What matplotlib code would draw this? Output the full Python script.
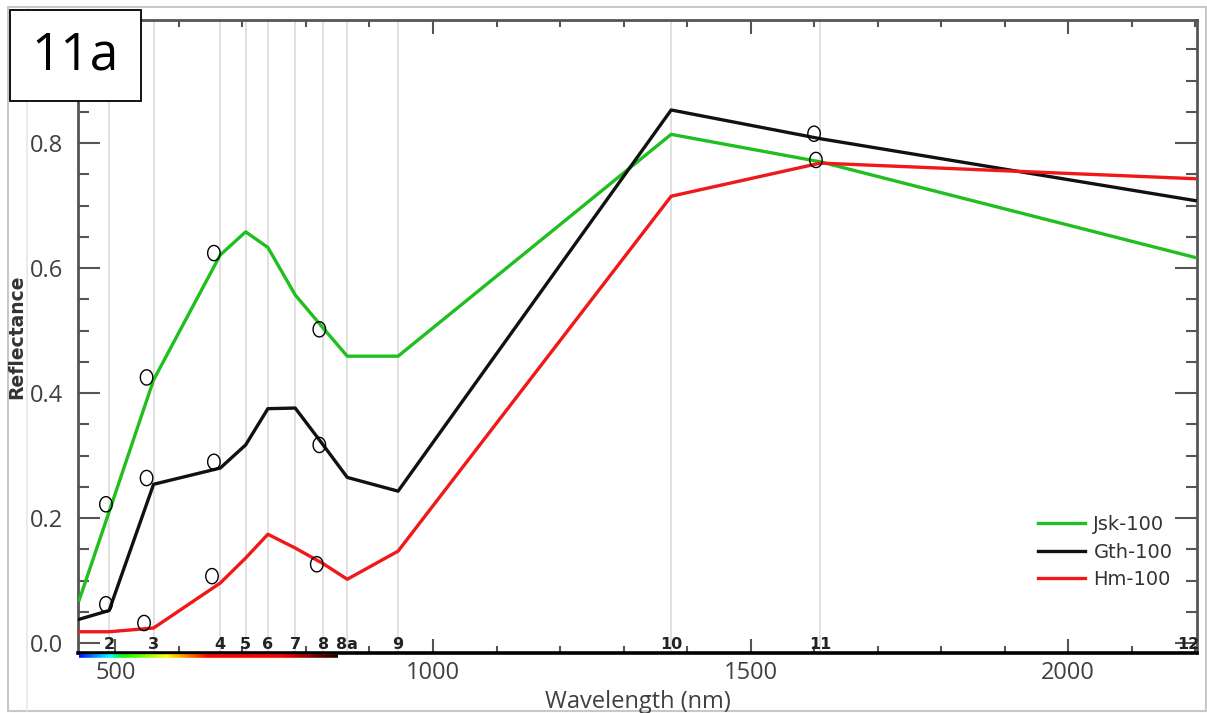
import numpy as np
import matplotlib
matplotlib.use("Agg")
import matplotlib.pyplot as plt
from matplotlib.ticker import MultipleLocator, FormatStrFormatter
from matplotlib.patches import Rectangle
from matplotlib.lines import Line2D
from matplotlib.collections import LineCollection
from matplotlib.path import Path
import matplotlib.transforms as mtransforms

plt.rcParams['font.family'] = ['Open Sans', 'DejaVu Sans']

# ---------------- data ----------------
waves = [443, 490, 560, 665, 705, 740, 783, 827, 865, 945, 1375, 1610, 2200]
jsk_100 = [0.069, 0.21, 0.421, 0.621, 0.658, 0.633, 0.557, 0.504, 0.459, 0.459, 0.814, 0.770, 0.617]
gth_100 = [0.038, 0.052, 0.254, 0.280, 0.317, 0.375, 0.376, 0.317, 0.265, 0.243, 0.853, 0.807, 0.708]
hm_100 = [0.018, 0.018, 0.024, 0.096, 0.136, 0.174, 0.152, 0.127, 0.102, 0.147, 0.715, 0.768, 0.743]

marker_w = [485, 485, 549, 545, 655, 652, 821, 817, 655, 549, 821, 1600, 1603]
marker_v = [0.222, 0.062, 0.264, 0.032, 0.290, 0.107, 0.317, 0.126, 0.624, 0.425, 0.502, 0.815, 0.773]

band_w = [490, 560, 665, 705, 740, 783, 827, 865, 945, 1375, 1610, 2190]
band_names = ['2', '3', '4', '5', '6', '7', '8', '8a', '9', '10', '11', '12']
grid_w = [490, 560, 665, 705, 740, 783, 827, 865, 945, 1375, 1610]

series_names = ['Jsk-100', 'Gth-100', 'Hm-100']
series_colors = ['#1fbf1f', '#111111', '#f01818']


def wl_rgb(w):
    if w < 440:
        r, g, b = -(w - 440) / 60.0, 0.0, 1.0
    elif w < 490:
        r, g, b = 0.0, (w - 440) / 50.0, 1.0
    elif w < 510:
        r, g, b = 0.0, 1.0, -(w - 510) / 20.0
    elif w < 580:
        r, g, b = (w - 510) / 70.0, 1.0, 0.0
    elif w < 645:
        r, g, b = 1.0, -(w - 645) / 65.0, 0.0
    else:
        r, g, b = 1.0, 0.0, 0.0
    if w > 760:
        f = max(0.0, 1 - (w - 760) / 90.0)
        r = 0.1 + 0.9 * f
    return (r, g, b)


# ---------------- figure ----------------
W, H = 1207, 713
fig = plt.figure(figsize=(W / 100, H / 100), dpi=100)
ax = fig.add_axes([78 / W, 1 - 653 / H, (1197 - 78) / W, (653 - 20) / H])

ax.set_xlim(441, 2203)
ax.set_ylim(-0.016, 0.997)

for w in grid_w:
    ax.axvline(w, color='#dcdcdc', lw=1.2, zorder=0)

for vals, name, col in zip([jsk_100, gth_100, hm_100], series_names, series_colors):
    ax.plot(waves, vals, color=col, lw=2.4, label=name, zorder=3)

th = np.linspace(0, 2 * np.pi, 64)
ellipse = Path(np.column_stack([0.82 * np.cos(th), np.sin(th)]))
ax.scatter(marker_w, marker_v, s=120, marker=ellipse, facecolors='none',
           edgecolors='black', linewidths=1.0, zorder=4)

# band labels
for w, n in zip(band_w, band_names):
    ax.text(w, -0.003, n, ha='center', va='center', fontsize=11.5,
            fontweight='bold', family='DejaVu Sans', color='#222222', zorder=5)

# ticks
ax.xaxis.set_major_locator(MultipleLocator(500))
ax.xaxis.set_minor_locator(MultipleLocator(100))
ax.yaxis.set_major_locator(MultipleLocator(0.2))
ax.yaxis.set_minor_locator(MultipleLocator(0.05))
ax.yaxis.set_major_formatter(FormatStrFormatter('%.1f'))

ax.tick_params(axis='both', which='both', direction='in', top=True, right=True,
               color='#555555', width=1.5)
ax.tick_params(axis='x', which='major', length=10, labelsize=17, pad=6,
               labelcolor='#404040')
ax.tick_params(axis='x', which='minor', length=5)
ax.tick_params(axis='y', which='major', length=16, labelsize=17, pad=11,
               labelcolor='#404040')
ax.tick_params(axis='y', which='minor', length=8)

for side in ['left', 'top', 'right']:
    ax.spines[side].set_color('#555555')
    ax.spines[side].set_linewidth(2)
ax.spines['bottom'].set_color('black')
ax.spines['bottom'].set_linewidth(2.6)

ax.set_xlabel('Wavelength (nm)', fontsize=17, color='#404040')
ax.xaxis.set_label_coords(0.5, -0.058)
ax.set_ylabel('Reflectance', fontsize=13.5, fontweight='bold',
              family='DejaVu Sans', color='#333333')
ax.yaxis.set_label_coords(-0.046, 0.5)

# spectrum strip along the x axis
ws = np.linspace(443, 850, 300)
trans = mtransforms.blended_transform_factory(ax.transData, ax.transAxes)
pts = np.array([[ws[i], -0.004] for i in range(len(ws))])
segs = [[pts[i], pts[i + 1]] for i in range(len(pts) - 1)]
lc = LineCollection(segs, colors=[wl_rgb(w) for w in ws[:-1]], linewidths=2.6,
                    transform=trans, clip_on=False, zorder=6)
ax.add_collection(lc)

leg = ax.legend(loc='center left', bbox_to_anchor=((1038 - 78) / 1119, (653 - 552) / 633),
                frameon=False, borderpad=0, borderaxespad=0, handlelength=2.4,
                handletextpad=0.45, labelspacing=0.45,
                prop={'family': 'DejaVu Sans', 'size': 14})
for t in leg.get_texts():
    t.set_color('#333333')

# figure decorations
fig.add_artist(Rectangle((8 / W, 1 - 711 / H), (1206 - 8) / W, (711 - 7) / H,
                         transform=fig.transFigure, fill=False,
                         edgecolor='#c8c8c8', lw=1.5, zorder=-1))
fig.add_artist(Line2D([27 / W, 27 / W], [1 - 9 / H, 1 - 710 / H],
                      transform=fig.transFigure, color='#ebebeb', lw=1.5, zorder=-1))
fig.add_artist(Rectangle((10 / W, 1 - 101 / H), 131 / W, 91 / H,
                         transform=fig.transFigure, facecolor='white',
                         edgecolor='black', lw=1.3, zorder=10))
fig.text(75.5 / W, 1 - 56 / H, '11a', fontsize=37, ha='center', va='center',
         color='black', zorder=11)

fig.savefig('out.png', dpi=100)
